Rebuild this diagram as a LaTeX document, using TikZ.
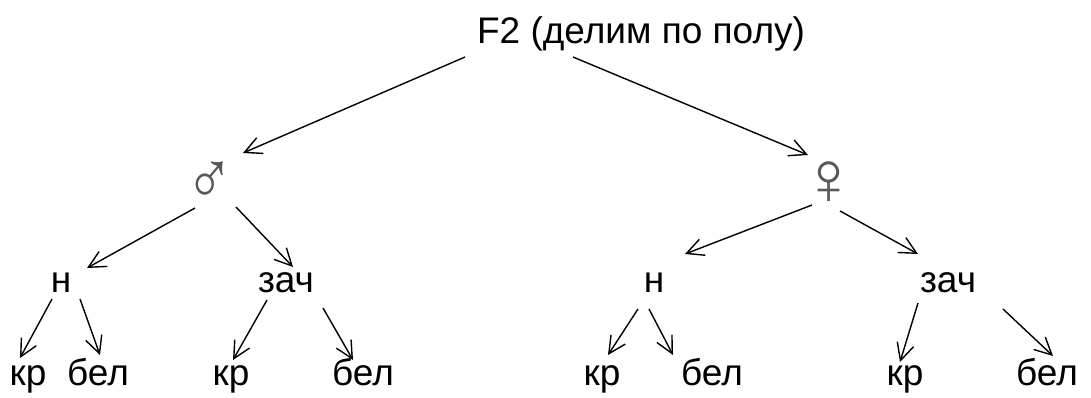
\documentclass[tikz,border=0pt]{standalone}
\usepackage{fontspec}
\setmainfont{Liberation Sans}
\usetikzlibrary{arrows.meta}

\begin{document}
\begin{tikzpicture}[x=0.5pt,y=-0.5pt,
  lbl/.style={inner sep=0pt,anchor=base,font=\fontsize{18.5}{22}\selectfont},
  sex/.style={inner sep=0pt,text=black!65,font=\fontsize{38}{42}\selectfont},
  arr/.style={-{Straight Barb[length=8.5pt,width=8.5pt]},line width=0.7pt}]
 \useasboundingbox (0,0) rectangle (1091,397);
 % root and the two sexes
 \node[lbl] (f2) at (641,43) {F2 (делим по полу)};
 \node[sex,xscale=0.85] (m) at (210,183) {♂};
 \node[sex] (f) at (829,183) {♀};
 % second level
 \node[lbl] (n1) at (61,292) {н};
 \node[lbl] (z1) at (286,292) {зач};
 \node[lbl] (n2) at (654,292) {н};
 \node[lbl] (z2) at (948,292) {зач};
 % leaves
 \node[lbl] (k1) at (28,385) {кр};
 \node[lbl] (b1) at (98,385) {бел};
 \node[lbl] (k2) at (231,385) {кр};
 \node[lbl] (b2) at (363,385) {бел};
 \node[lbl] (k3) at (602,385) {кр};
 \node[lbl] (b3) at (712,385) {бел};
 \node[lbl] (k4) at (905,385) {кр};
 \node[lbl] (b4) at (1047,385) {бел};
 % arrows
 \draw[arr] ([shift={(-176,14)}]f2.base) -- ([shift={(33,-30)}]m.center);
 \draw[arr] ([shift={(-68,14)}]f2.base) -- ([shift={(-21,-28)}]f.center);
 \draw[arr] ([shift={(-15,25)}]m.center) -- ([shift={(26,-24)}]n1.base);
 \draw[arr] ([shift={(26,24)}]m.center) -- ([shift={(7,-25)}]z1.base);
 \draw[arr] ([shift={(-9,7)}]n1.base) -- ([shift={(-8,-27)}]k1.base);
 \draw[arr] ([shift={(19,7)}]n1.base) -- ([shift={(2,-30)}]b1.base);
 \draw[arr] ([shift={(-19,8)}]z1.base) -- ([shift={(2,-25)}]k2.base);
 \draw[arr] ([shift={(37,16)}]z1.base) -- ([shift={(-10,-25)}]b2.base);
 \draw[arr] ([shift={(-17,22)}]f.center) -- ([shift={(31,-38)}]n2.base);
 \draw[arr] ([shift={(11,28)}]f.center) -- ([shift={(-30,-38)}]z2.base);
 \draw[arr] ([shift={(-16,17)}]n2.base) -- ([shift={(6,-30)}]k3.base);
 \draw[arr] ([shift={(-5,17)}]n2.base) -- ([shift={(-39,-30)}]b3.base);
 \draw[arr] ([shift={(-30,11)}]z2.base) -- ([shift={(-5,-23)}]k4.base);
 \draw[arr] ([shift={(55,17)}]z2.base) -- ([shift={(6,-29)}]b4.base);
\end{tikzpicture}
\end{document}
